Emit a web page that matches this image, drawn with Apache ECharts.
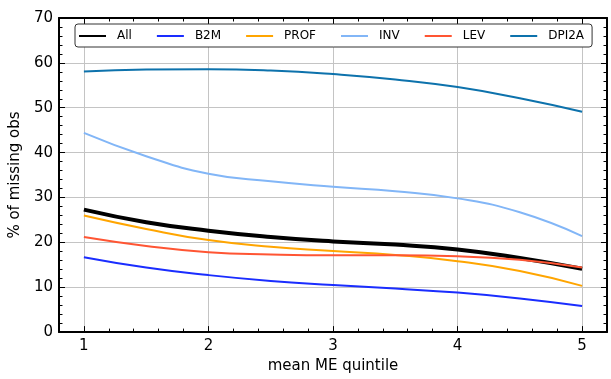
<!DOCTYPE html>
<html>
<head>
<meta charset="utf-8">
<script src="https://cdn.jsdelivr.net/npm/echarts@6/dist/echarts.min.js"></script>
<style>html,body{margin:0;padding:0;background:#fff;}#c{width:611px;height:379px;}</style>
</head>
<body>
<div id="c"></div>
<script>
const quintiles = [1, 1.5, 2, 2.5, 3, 3.5, 4, 4.5, 5];
const xTickValues = [1, 2, 3, 4, 5];
const seriesNames = ['All', 'B2M', 'PROF', 'INV', 'LEV', 'DPI2A'];
const allVals   = [27.3, 24.5, 22.6, 21.2, 20.2, 19.5, 18.4, 16.5, 14.1];
const b2mVals   = [16.7, 14.4, 12.7, 11.4, 10.5, 9.7, 8.8, 7.5, 5.8];
const profVals  = [26.0, 23.0, 20.5, 19.0, 18.1, 17.2, 15.8, 13.6, 10.3];
const invVals   = [44.4, 39.2, 35.3, 33.6, 32.4, 31.4, 29.8, 26.7, 21.4];
const levVals   = [21.2, 19.2, 17.8, 17.3, 17.1, 17.1, 16.9, 16.1, 14.4];
const dpi2aVals = [58.1, 58.5, 58.6, 58.3, 57.5, 56.3, 54.6, 52.1, 49.1];

const valueSets = [allVals, b2mVals, profVals, invVals, levVals, dpi2aVals];
const colors = ['#000000', '#1a2dff', '#ffa500', '#82b6f7', '#ff5533', '#0d72ac'];
const widths = [4, 2, 2, 2, 2, 2];

const FONT = 'DejaVu Sans';
const chart = echarts.init(document.getElementById('c'), null, {renderer: 'canvas'});

const xCommon = {type: 'value', min: 0.8, max: 5.2};
const xAxes = [
  Object.assign({}, xCommon, {
    position: 'bottom', interval: 0.2,
    name: 'mean ME quintile', nameLocation: 'middle', nameGap: 24,
    nameTextStyle: {fontFamily: FONT, fontSize: 15, color: '#000'},
    axisLine: {show: true, onZero: false, lineStyle: {color: '#000', width: 2}},
    axisTick: {show: true, inside: true, length: 6, lineStyle: {color: '#000', width: 1}, customValues: xTickValues},
    axisLabel: {show: true, customValues: xTickValues, fontFamily: FONT, fontSize: 15, color: '#000', margin: 7},
    splitLine: {show: true, lineStyle: {color: '#c4c4c4', width: 1}},
    minorTick: {show: false}
  }),
  Object.assign({}, xCommon, {
    position: 'bottom', interval: 0.2,
    axisLine: {show: false, onZero: false},
    axisTick: {show: true, inside: true, length: 3.5, lineStyle: {color: '#000', width: 1}},
    axisLabel: {show: false}, splitLine: {show: false}
  }),
  Object.assign({}, xCommon, {
    position: 'top', interval: 0.2,
    axisLine: {show: true, onZero: false, lineStyle: {color: '#000', width: 2}},
    axisTick: {show: true, inside: true, length: 6, lineStyle: {color: '#000', width: 1}, customValues: xTickValues},
    axisLabel: {show: false, customValues: xTickValues}, splitLine: {show: false}
  }),
  Object.assign({}, xCommon, {
    position: 'top', interval: 0.2,
    axisLine: {show: false, onZero: false},
    axisTick: {show: true, inside: true, length: 3.5, lineStyle: {color: '#000', width: 1}},
    axisLabel: {show: false}, splitLine: {show: false}
  })
];

const yCommon = {type: 'value', min: 0, max: 70, interval: 10};
const yAxes = [
  Object.assign({}, yCommon, {
    position: 'left',
    name: '% of missing obs', nameLocation: 'middle', nameGap: 28, nameRotate: 90,
    nameTextStyle: {fontFamily: FONT, fontSize: 15, color: '#000'},
    axisLine: {show: true, onZero: false, lineStyle: {color: '#000', width: 2}},
    axisTick: {show: true, inside: true, length: 6, lineStyle: {color: '#000', width: 1}},
    minorTick: {show: true, splitNumber: 5, length: 3.5, lineStyle: {color: '#000', width: 1}},
    axisLabel: {fontFamily: FONT, fontSize: 15, color: '#000', margin: 6},
    splitLine: {show: true, lineStyle: {color: '#c4c4c4', width: 1}}
  }),
  Object.assign({}, yCommon, {
    position: 'right',
    axisLine: {show: true, onZero: false, lineStyle: {color: '#000', width: 2}},
    axisTick: {show: true, inside: true, length: 6, lineStyle: {color: '#000', width: 1}},
    minorTick: {show: true, splitNumber: 5, length: 3.5, lineStyle: {color: '#000', width: 1}},
    axisLabel: {show: false}, splitLine: {show: false}
  })
];

const series = seriesNames.map((name, i) => ({
  name: name,
  type: 'line',
  xAxisIndex: 0,
  yAxisIndex: 0,
  smooth: 0.5,
  symbol: 'none',
  showSymbol: false,
  data: quintiles.map((q, k) => [q, valueSets[i][k]]),
  lineStyle: {color: colors[i], width: widths[i]},
  itemStyle: {color: colors[i]},
  z: 3 + i,
  animation: false
}));

chart.setOption({
  animation: false,
  backgroundColor: '#fff',
  grid: {left: 57, right: 4, top: 18, bottom: 46, containLabel: false},
  legend: {
    data: seriesNames,
    left: 75, top: 24,
    padding: [5, 8, 4, 3],
    itemGap: 24,
    itemWidth: 27, itemHeight: 14,
    backgroundColor: '#fff',
    borderColor: '#333', borderWidth: 1, borderRadius: 3,
    itemStyle: {opacity: 0, borderWidth: 0},
    textStyle: {fontFamily: FONT, fontSize: 12, color: '#000', padding: [0, 0, 0, 6], lineHeight: 14}
  },
  xAxis: xAxes,
  yAxis: yAxes,
  series: series
});
</script>
</body>
</html>
